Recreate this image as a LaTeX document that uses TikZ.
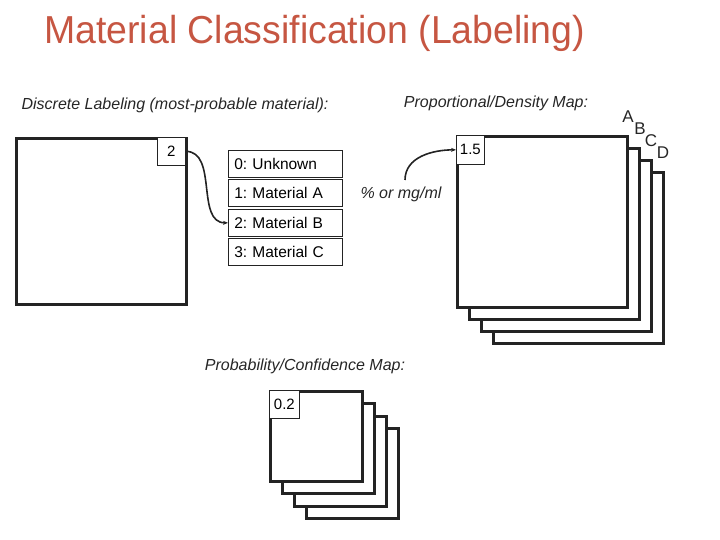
\documentclass[tikz,border=0pt]{standalone}
\usepackage{fontspec}
\setmainfont{Liberation Sans}
\usetikzlibrary{arrows.meta}
\definecolor{titlered}{RGB}{198,86,66}
\definecolor{mapline}{RGB}{35,35,35}
\frenchspacing
\begin{document}
\begin{tikzpicture}[x=1pt,y=-1pt,
  mapbox/.style={draw=mapline, line width=3pt, fill=white, inner sep=0pt, anchor=north west},
  cellbox/.style={draw=mapline, line width=0.7pt, fill=white, inner sep=0pt, anchor=north west, font=\fontsize{15}{17}\selectfont},
  legendbox/.style={draw=mapline, line width=0.7pt, fill=white, inner sep=0pt, anchor=north west,
     minimum width=114pt, minimum height=27pt, text width=102pt, align=left, font=\fontsize{15.5}{17}\selectfont},
  caption/.style={font=\fontsize{16}{18}\selectfont\itshape, text=black!85, inner sep=0pt},
  letter/.style={font=\fontsize{17}{19}\selectfont, text=black!85, inner sep=0pt},
  link/.style={draw=mapline, line width=1.6pt, -{Stealth[length=5pt,width=4pt]}}
]
\useasboundingbox (0,0) rectangle (720,540);
% title
\node[anchor=west, inner sep=0pt, text=titlered] (title) at (44,33)
  {\scalebox{0.96}[1]{\fontsize{39}{44}\selectfont Material Classification (Labeling)}};

% discrete labeling
\node[caption] (capd) at (175,105) {Discrete Labeling (most-probable material):};
\node[mapbox, minimum width=170pt, minimum height=166pt] (dmap) at (15,137) {};
\node[cellbox, minimum width=28pt, minimum height=28pt] (c2) at (157,137) {2};

\node[legendbox] (l0) at (228,150) {0: Unknown};
\node[legendbox] (l1) at (228,179) {1: Material A};
\node[legendbox] (l2) at (228,209) {2: Material B};
\node[legendbox] (l3) at (228,238) {3: Material C};

\draw[link] (c2.east) to[out=0,in=180] (l2.west);

% proportional / density map
\node[caption] (capp) at (496,103) {Proportional/Density Map:};
\node[mapbox, minimum width=170pt, minimum height=171pt] (pD) at (492,171) {};
\node[mapbox, minimum width=170pt, minimum height=171pt] (pC) at (480,159) {};
\node[mapbox, minimum width=170pt, minimum height=171pt] (pB) at (468,147) {};
\node[mapbox, minimum width=170pt, minimum height=171pt] (pA) at (456,135) {};
\node[cellbox, minimum width=28pt, minimum height=29pt] (c15) at (456,135) {1.5};
\node[letter] (lA) at (628,117) {A};
\node[letter] (lB) at (640,129) {B};
\node[letter] (lC) at (651,141) {C};
\node[letter] (lD) at (663,153) {D};

\node[caption] (unit) at (401,194) {\% or mg/ml};
\coordinate (ustart) at (405,180);
\draw[link] (ustart) to[out=90,in=180] (c15.west);

% probability / confidence map
\node[caption] (capc) at (305,366) {Probability/Confidence Map:};
\node[mapbox, minimum width=92pt, minimum height=90pt] (qD) at (305,427) {};
\node[mapbox, minimum width=92pt, minimum height=90pt] (qC) at (293,415) {};
\node[mapbox, minimum width=92pt, minimum height=90pt] (qB) at (281,402) {};
\node[mapbox, minimum width=92pt, minimum height=90pt] (qA) at (269,390) {};
\node[cellbox, minimum width=30pt, minimum height=28pt] (c02) at (269,390) {0.2};
\end{tikzpicture}
\end{document}
